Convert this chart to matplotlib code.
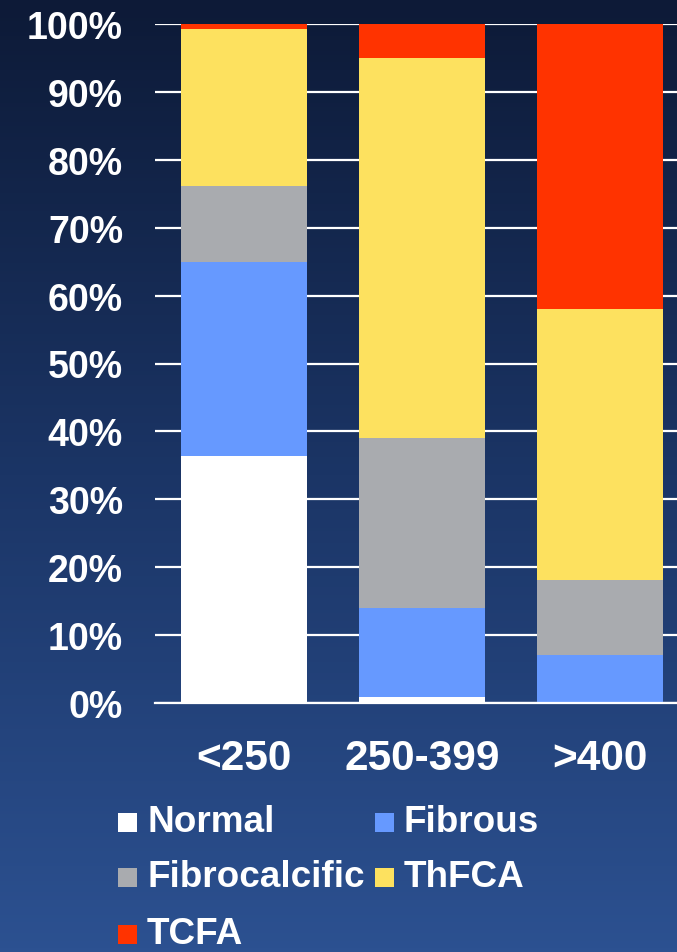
import numpy as np
import matplotlib
matplotlib.use("Agg")
import matplotlib.pyplot as plt
from matplotlib.colors import LinearSegmentedColormap
from matplotlib.patches import Rectangle

# Plaque composition by group (percent of lesions)
categories = ["<250", "250-399", ">400"]
series_names = ["Normal", "Fibrous", "Fibrocalcific", "ThFCA", "TCFA"]
normal = [36.4, 0.9, 0.0]
fibrous = [28.5, 13.1, 7.1]
fibrocalcific = [11.2, 25.0, 11.0]
thfca = [23.1, 56.0, 39.9]
tcfa = [0.8, 5.0, 42.0]
series_values = [normal, fibrous, fibrocalcific, thfca, tcfa]
series_colors = ["#FFFFFF", "#6699FF", "#A9ABAF", "#FDE15F", "#FF3300"]
y_ticks = [0, 10, 20, 30, 40, 50, 60, 70, 80, 90, 100]
y_tick_labels = [f"{t}%" for t in y_ticks]

W, H = 677, 953
fig = plt.figure(figsize=(W / 100, H / 100), dpi=100)

# Vertical navy gradient background
bg = fig.add_axes([0, 0, 1, 1], zorder=-10)
grad = np.linspace(0, 1, 256).reshape(-1, 1)
cmap = LinearSegmentedColormap.from_list("bg", ["#0D1A37", "#1B3566", "#2C5191"])
bg.imshow(grad, aspect="auto", cmap=cmap, extent=[0, 1, 0, 1], origin="upper")
bg.set_axis_off()

font = "Liberation Sans"
fs = 27
fs_cat = 30.5
fs_leg = 26.6

# Plot area in pixel coordinates
left_px, right_px, top_px, bottom_px = 155, 689, 25, 704
ax = fig.add_axes([left_px / W, 1 - bottom_px / H,
                   (right_px - left_px) / W, (bottom_px - top_px) / H])
ax.patch.set_alpha(0)

x = np.arange(len(categories))
bottom = np.zeros(len(categories))
for name, vals, col in zip(series_names, series_values, series_colors):
    ax.bar(x, vals, width=0.708, bottom=bottom, color=col, linewidth=0,
           zorder=3, label=name)
    bottom += np.array(vals)

ax.set_xlim(-0.5, 2.5)
ax.set_ylim(0, 100)
ax.set_yticks(y_ticks)
ax.set_yticklabels(y_tick_labels, fontfamily=font, fontweight="bold",
                   fontsize=fs, color="white")
ax.set_xticks(x)
ax.set_xticklabels(categories, fontfamily=font, fontweight="bold",
                   fontsize=fs_cat, color="white")
ax.tick_params(axis="y", length=0, pad=23)
ax.tick_params(axis="x", length=0, pad=25)
ax.yaxis.grid(True, color="white", linewidth=1.6, zorder=1)
ax.set_axisbelow(True)
for side in ["top", "right", "left"]:
    ax.spines[side].set_visible(False)
ax.spines["bottom"].set_color("white")
ax.spines["bottom"].set_linewidth(1.6)
ax.spines["bottom"].set_zorder(4)

# Legend laid out in two columns
legend_pos = [(118, 823), (375, 823), (118, 878), (375, 878), (118, 935)]
sq = 19
for (px, py), name, col in zip(legend_pos, series_names, series_colors):
    fig.add_artist(Rectangle((px / W, 1 - (py + sq / 2) / H), sq / W, sq / H,
                             transform=fig.transFigure, facecolor=col,
                             edgecolor="none"))
    fig.text((px + 29) / W, 1 - py / H, name, fontfamily=font,
             fontweight="bold", fontsize=fs_leg, color="white",
             ha="left", va="center")

fig.savefig("out.png", dpi=100)
